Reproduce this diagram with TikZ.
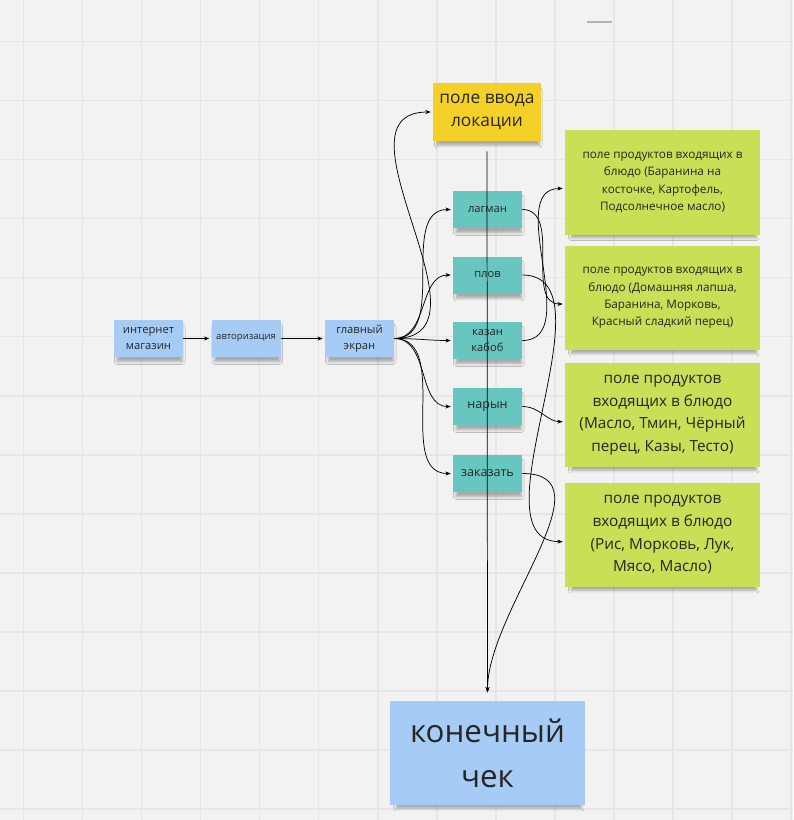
\documentclass[tikz,border=0pt]{standalone}
\usepackage{fontspec}
\setmainfont{Open Sans}
\usetikzlibrary{arrows.meta,shadows.blur}
\begin{document}
\begin{tikzpicture}[x=0.75pt,y=-0.75pt,
  note/.style={align=center,text=black!85,inner sep=0pt,blur shadow={shadow scale=0.95,shadow xshift=1pt,shadow yshift=-4.5pt,shadow blur radius=2pt,shadow blur steps=6,shadow opacity=30}},
  small/.style={note,minimum width=51.75pt,minimum height=27.75pt,font=\fontsize{8.4}{11.5}\selectfont},
  big/.style={note,minimum width=146.25pt,minimum height=78.5pt},
  link/.style={-{Stealth[length=4pt,width=3pt]},line width=0.55pt,shorten >=1.5pt},
  font=\small]
\definecolor{board}{HTML}{F2F2F2}
\definecolor{grid line}{HTML}{E6E6E6}
\definecolor{note blue}{HTML}{A6CCF5}
\definecolor{note yellow}{HTML}{F5D128}
\definecolor{note teal}{HTML}{67C6C0}
\definecolor{note green}{HTML}{C9DF56}

\fill[board] (0,0) rectangle (793,820);
\useasboundingbox (0,0) rectangle (793,820);
\foreach \i in {0,...,13} {
  \draw[grid line,line width=1.1pt] (23.5+59.05*\i,0) -- (23.5+59.05*\i,820);
  \draw[grid line,line width=1.1pt] (0,41.5+59.05*\i) -- (793,41.5+59.05*\i);
}
\draw[black!30,line width=2.2pt] (587,22) -- (612,22);

\node[small,fill=note blue] (shop) at (148.5,338.5) {интернет\\магазин};
\node[small,fill=note blue,font=\fontsize{7.1}{9}\selectfont] (auth) at (246,338.5) {авторизация};
\node[small,fill=note blue] (main) at (359.5,338.5) {главный\\экран};
\node[note,fill=note yellow,minimum width=81pt,minimum height=43.5pt,font=\fontsize{13}{17.5}\selectfont] (place) at (487,112) {поле ввода\\локации};

\node[small,fill=note teal] (lagman) at (487.5,209.5) {лагман};
\node[small,fill=note teal] (plov) at (487.5,275) {плов};
\node[small,fill=note teal] (kazan) at (487.5,340.5) {казан\\кабоб};
\node[small,fill=note teal,font=\fontsize{9.4}{11}\selectfont] (naryn) at (487.5,406.5) {нарын};
\node[small,fill=note teal,font=\fontsize{9.4}{11}\selectfont] (order) at (487.5,473.5) {заказать};

\node[big,fill=note green,font=\fontsize{8.8}{13}\selectfont] (dish1) at (662.5,182.5) {поле продуктов входящих в\\блюдо (Баранина на\\косточке, Картофель,\\Подсолнечное масло)};
\node[big,fill=note green,font=\fontsize{8.8}{13}\selectfont] (dish2) at (662.5,298) {поле продуктов входящих в\\блюдо (Домашняя лапша,\\Баранина, Морковь,\\Красный сладкий перец)};
\node[big,fill=note green,font=\fontsize{11.5}{17}\selectfont] (dish3) at (662.5,415) {поле продуктов\\входящих в блюдо\\(Масло, Тмин, Чёрный\\перец, Казы, Тесто)};
\node[big,fill=note green,font=\fontsize{11.5}{17}\selectfont] (dish4) at (662.5,535) {поле продуктов\\входящих в блюдо\\(Рис, Морковь, Лук,\\Мясо, Масло)};

\node[big,fill=note blue,font=\fontsize{23.5}{34}\selectfont] (check) at (487.5,753) {конечный\\чек};

\draw[link] (shop) -- (auth);
\draw[link] (auth) -- (main);
\draw[link] (main.east) to[out=0,in=180,looseness=1.2] (place.west);
\foreach \n in {lagman,plov,kazan,naryn,order}
  \draw[link] (main.east) to[out=0,in=180] (\n.west);

\draw[link] (kazan.east) to[out=0,in=180] ([yshift=-4.5pt]dish1.west);
\draw[link] (lagman.east) to[out=0,in=180] ([yshift=-4.5pt]dish2.west);
\draw[link] (naryn.east) to[out=0,in=180] ([yshift=-5pt]dish3.west);
\draw[link] (plov.east) to[out=0,in=180,looseness=0.9] ([yshift=-5pt]dish4.west);

\draw[link,shorten <=7.5pt,shorten >=6pt] (place.south) -- (check.north);
\draw[link,shorten >=6pt] (order.east) to[out=0,in=90] (check.north);
\end{tikzpicture}
\end{document}
